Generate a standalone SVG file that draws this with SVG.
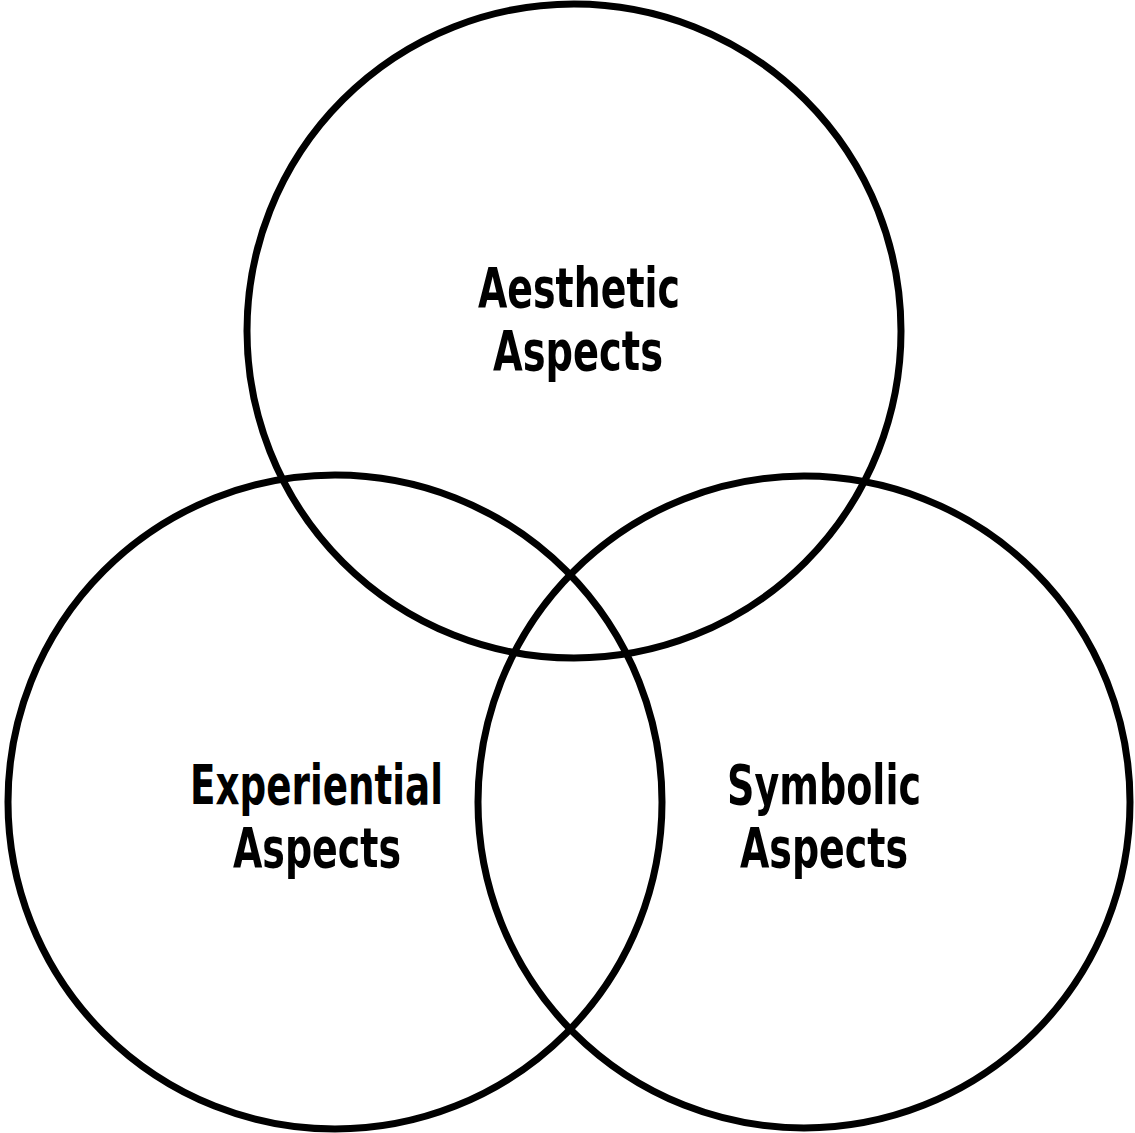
<svg xmlns="http://www.w3.org/2000/svg" width="1135" height="1133" viewBox="0 0 1135 1133">
<style>
.c{fill:none;stroke:#000;stroke-width:7}
.t{font-family:"DejaVu Sans Condensed","DejaVu Sans",sans-serif;font-stretch:condensed;font-weight:bold;font-size:55px;fill:#000}
</style>
<rect width="1135" height="1133" fill="#fff"/>
<g id="connectors"></g>
<g id="aesthetic">
<circle class="c" cx="574" cy="331" r="327"/>
<text class="t" x="478" y="307" textLength="202" lengthAdjust="spacingAndGlyphs">Aesthetic</text>
<text class="t" x="493" y="370" textLength="170" lengthAdjust="spacingAndGlyphs">Aspects</text>
</g>
<g id="experiential">
<circle class="c" cx="335" cy="802" r="327"/>
<text class="t" x="190" y="804" textLength="253" lengthAdjust="spacingAndGlyphs">Experiential</text>
<text class="t" x="233" y="867" textLength="168" lengthAdjust="spacingAndGlyphs">Aspects</text>
</g>
<g id="symbolic">
<circle class="c" cx="804" cy="802" r="326"/>
<text class="t" x="727" y="804" textLength="194" lengthAdjust="spacingAndGlyphs">Symbolic</text>
<text class="t" x="740" y="867" textLength="168" lengthAdjust="spacingAndGlyphs">Aspects</text>
</g>
</svg>
